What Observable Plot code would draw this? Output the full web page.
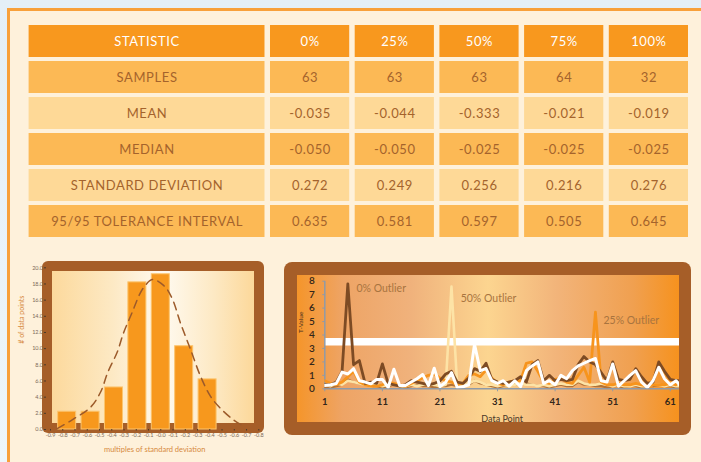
<!DOCTYPE html>
<html>
<head>
<meta charset="utf-8">
<script src="https://cdn.jsdelivr.net/npm/d3@7"></script>
<script src="https://cdn.jsdelivr.net/npm/@observablehq/plot@0.6"></script>
<style>
  html, body { margin: 0; padding: 0; }
  body { width: 701px; height: 462px; overflow: hidden; font-family: Lato, "Open Sans", sans-serif; }
  #page { position: relative; width: 701px; height: 462px; overflow: hidden; background: linear-gradient(180deg, #e4eff7, #eef6fa); }
  .abs { position: absolute; }
  #panel { left: 7px; top: 8px; width: 740px; height: 500px; background: #fef1db; border: 3px solid #f8a03a; box-sizing: border-box; }
  #hframe { left: 42px; top: 261px; width: 222px; height: 172px; background: #a65e28; border-radius: 6px; }
  #hinner { left: 52px; top: 271px; width: 202px; height: 152px; background: linear-gradient(90deg, #fcd99c 0%, #fde9c4 30%, #fffaf0 55%, #fde9c4 80%, #fcd89a 100%); }
  #lframe { left: 284px; top: 262px; width: 407px; height: 173px; background: #a65e28; border-radius: 8px; }
  #linner { left: 297px; top: 275px; width: 382px; height: 147px; background: linear-gradient(90deg, #f5952a 0%, #eea465 12%, #f0b27c 30%, #fcd590 50%, #f2b47a 68%, #f0a050 88%, #f6921e 100%); }
  svg { overflow: visible; }
</style>
</head>
<body>
<div id="page">
  <div id="panel" class="abs"></div>
  <div id="table" class="abs" style="left:0;top:0"></div>
  <div id="hframe" class="abs"></div>
  <div id="hinner" class="abs"></div>
  <div id="hist" class="abs" style="left:0;top:255px"></div>
  <div id="lframe" class="abs"></div>
  <div id="linner" class="abs"></div>
  <div id="line" class="abs" style="left:280px;top:255px"></div>
</div>
<script>
// ---------- DATA ----------
const columns = ["STATISTIC", "0%", "25%", "50%", "75%", "100%"];
const rowLabels = ["SAMPLES", "MEAN", "MEDIAN", "STANDARD DEVIATION", "95/95 TOLERANCE INTERVAL"];
const samples = [63, 63, 63, 64, 32];
const mean = [-0.035, -0.044, -0.333, -0.021, -0.019];
const median = [-0.050, -0.050, -0.025, -0.025, -0.025];
const stdDev = [0.272, 0.249, 0.256, 0.216, 0.276];
const tolerance = [0.635, 0.581, 0.597, 0.505, 0.645];

// histogram
const histTickLabels = ["-0.9","-0.8","-0.7","-0.6","-0.5","-0.4","-0.3","-0.2","-0.1","-0.0","-0.1","-0.2","-0.3","-0.4","-0.5","-0.6","-0.7","-0.8"];
const histCounts = [2.2, 2.2, 5.2, 18.2, 19.2, 10.3, 6.2];
const curveX = [0.55, 1.77, 3.27, 4.08, 4.68, 5.44, 5.98, 6.67, 7.29, 7.67, 8.3, 9.25, 9.93, 10.6, 11.43, 12.24, 13.06, 13.88, 14.97, 15.65];
const curveY = [0.1, 1.2, 2.76, 4.61, 7.09, 9.56, 12.03, 14.5, 16.78, 17.69, 18.55, 17.8, 16.2, 13.2, 9.9, 6.6, 4.1, 2.6, 1.15, 0.5];
const histYTicks = [0, 2, 4, 6, 8, 10, 12, 14, 16, 18, 20];

// T-value series (data points 1..63)
const t0 = [0.3,0.3,0.5,1.3,7.8,1.8,2.1,0.4,0.5,0.4, 1.85,0.4,0.3,0.2,0.3,0.6,0.5,0.4,0.3,0.4, 0.6,1.1,1.3,0.5,0.4,0.8,1.5,1.3,1.9,0.7, 0.5,0.4,0.5,0.6,0.9,0.5,1.8,2.1,0.6,1.0, 0.6,0.7,0.6,0.7,1.8,2.4,2.0,1.8,1.2,0.6, 2.0,0.7,0.6,0.7,1.5,0.9,0.4,0.5,2.0,1.3, 0.7,0.6,0.6];
const t25 = [0.6,0.4,0.3,0.5,0.9,1.3,0.5,0.3,0.2,0.2, 0.3,0.5,0.4,0.3,0.2,0.4,0.6,0.8,1.0,1.1, 0.8,0.6,0.5,0.3,0.4,1.0,1.1,0.9,1.4,0.8, 0.4,0.3,0.5,0.6,0.6,1.9,2.0,1.3,0.5,0.4, 0.7,0.8,0.5,0.4,1.0,1.6,0.5,5.7,0.5,0.3, 0.3,0.4,0.3,0.3,0.4,0.3,0.2,0.3,0.3,0.3, 0.4,0.3,0.9];
const t50 = [0.3,0.2,0.4,0.3,0.6,0.5,0.4,0.3,0.2,0.3, 0.2,0.3,0.3,0.2,0.2,0.3,0.2,0.3,0.4,0.3, 0.2,0.3,7.6,0.2,0.3,0.4,0.6,0.5,0.3,0.3, 0.2,0.3,0.2,0.3,0.4,0.3,0.3,0.2,0.3,0.2, 0.3,0.4,0.3,0.3,0.6,0.4,0.3,0.3,0.4,0.3, 0.2,0.3,0.2,0.2,0.3,0.2,0.2,0.3,0.3,0.2, 0.3,0.2,0.2];
const t75 = [0.25,0.3,0.4,1.24,1.1,1.5,0.6,0.5,0.37,0.7, 0.7,0.1,1.45,0.25,0.25,0.5,0.75,1.06,0.25,1.53, 0.17,0.5,1.2,0.1,0.15,0.3,3.3,1.35,1.5,0.6, 0.4,0.6,0.2,0.6,0.15,1.35,1.7,2.0,0.4,0.6, 0.3,1.0,0.75,1.35,1.7,1.9,2.1,2.25,0.6,0.5, 1.85,0.2,0.6,1.0,1.35,0.5,0.1,0.6,1.6,0.75, 0.3,0.6,0.1];
const t100 = [0.1,0.1,0.2,0.3,0.7,0.5,0.4,0.3,0.2,0.2, 0.1,0.2,0.3,0.2,0.1,0.2,0.3,0.2,0.2,0.1, 0.2,0.2,0.3,0.2,0.2,0.3,0.6,0.4,0.3,0.2, 0.1,0.2,0.2,0.3,0.3,0.4,0.3,0.2,0.2,0.1, 0.2,0.3,0.2,0.2,0.5,0.3,0.3,0.2,0.2,0.1, 0.2,0.2,0.1,0.2,0.2,0.1,0.2,0.2,0.3,0.2, 0.2,0.1,0.1];
const threshold = 3.5;
const lineXTicks = [1, 11, 21, 31, 41, 51, 61];
const lineYTicks = [0, 1, 2, 3, 4, 5, 6, 7, 8];
const outlierLabels = ["0% Outlier", "50% Outlier", "25% Outlier"];
const outlierX = [6.5, 24.6, 49.4];
const outlierY = [7.43, 6.69, 5.08];

// ---------- TABLE ----------
const colWeights = [2.85, 1, 1, 1, 1, 1];
const colStart = colWeights.map((w, i) => d3.sum(colWeights.slice(0, i)));
const rowNames = ["HEADER", ...rowLabels];
const rowValues = [samples, mean, median, stdDev, tolerance];
const rowFormats = [d => String(d), d => d.toFixed(3), d => d.toFixed(3), d => d.toFixed(3), d => d.toFixed(3)];
const rowFill = ["#f8981e", "#fcb955", "#fed997", "#fcb955", "#fed997", "#fcb955"];
const cells = [];
columns.forEach((c, ci) => cells.push({row: "HEADER", ci, text: c, fill: rowFill[0], color: "#ffffff"}));
rowLabels.forEach((r, ri) => {
  cells.push({row: r, ci: 0, text: r, fill: rowFill[ri + 1], color: "#a4632c"});
  rowValues[ri].forEach((v, vi) => cells.push({row: r, ci: vi + 1, text: rowFormats[ri](v), fill: rowFill[ri + 1], color: "#a4632c"}));
});

const tablePlot = Plot.plot({
  width: 701, height: 245,
  marginLeft: 25.85, marginRight: 10.25, marginTop: 22.75, marginBottom: 6.25,
  style: {background: "transparent", fontFamily: "Lato, sans-serif", letterSpacing: "0.6px"},
  x: {domain: [0, d3.sum(colWeights)], axis: null},
  y: {domain: rowNames, paddingInner: 0.125, paddingOuter: 0.0625, axis: null},
  color: {type: "identity"},
  marks: [
    Plot.barX(cells, {x1: d => colStart[d.ci], x2: d => colStart[d.ci] + colWeights[d.ci], y: "row", fill: "fill", insetLeft: 2.75, insetRight: 2.75}),
    Plot.text(cells, {x: d => colStart[d.ci] + colWeights[d.ci] / 2, y: "row", text: "text", fill: "color", fontSize: 13})
  ]
});
document.getElementById("table").appendChild(tablePlot);

// ---------- HISTOGRAM ----------
const barStart = 1.36, barStep = 1.91, barHalf = 0.735;
const bars = histCounts.map((v, i) => ({c: barStart + i * barStep, v}));
const curve = curveX.map((x, i) => ({x, y: curveY[i]}));
const histPlot = Plot.plot({
  width: 280, height: 207,
  marginLeft: 50, marginRight: 21.7, marginTop: 12.3, marginBottom: 33,
  style: {background: "transparent", fontFamily: "Lato, sans-serif"},
  x: {domain: [0, 17]},
  y: {domain: [0, 20]},
  marks: [
    Plot.rectY(bars, {x1: d => d.c - barHalf, x2: d => d.c + barHalf, y: "v", fill: "#f7981d", stroke: "#fcc56e", strokeWidth: 1}),
    Plot.line(curve, {x: "x", y: "y", curve: "catmull-rom", stroke: "#9c5a2a", strokeWidth: 1.5, strokeDasharray: "8,5.5"}),
    Plot.axisY({ticks: histYTicks, tickFormat: d => d.toFixed(1), tickSize: 2, tickPadding: 1.5, dx: -4, fontSize: 5.5, fill: "#7d6a58", stroke: "#4a3a2a", label: null}),
    Plot.axisX({ticks: d3.range(histTickLabels.length), tickFormat: i => histTickLabels[i], tickSize: 1.5, tickPadding: 2.5, fontSize: 5.5, fill: "#7d6a58", stroke: "#4a3a2a", label: null}),
    Plot.text(["# of data points"], {frameAnchor: "left", dx: -29, dy: -5, rotate: -90, fill: "#d6893d", fontSize: 7}),
    Plot.text(["multiples of standard deviation"], {frameAnchor: "bottom", dy: 22, fill: "#d6893d", fontSize: 7.5, style: "letter-spacing:0.3px"})
  ]
});
document.getElementById("hist").appendChild(histPlot);

// ---------- T-VALUE LINES ----------
const toPts = arr => arr.map((v, i) => ({k: i + 1, v}));
const series = [
  {data: toPts(t100), stroke: "#b07238", w: 2.2},
  {data: toPts(t50), stroke: "#fde3a6", w: 2.6},
  {data: toPts(t25), stroke: "#f7941d", w: 2.8},
  {data: toPts(t0), stroke: "#7d4b24", w: 2.8},
  {data: toPts(t75), stroke: "#ffffff", w: 3}
];
const annotations = outlierLabels.map((t, i) => ({t, x: outlierX[i], y: outlierY[i]}));
const linePlot = Plot.plot({
  width: 421, height: 207,
  marginLeft: 44.3, marginRight: 22, marginTop: 25.7, marginBottom: 73.7,
  style: {background: "transparent", fontFamily: "Lato, sans-serif"},
  x: {domain: [1, 62.6]},
  y: {domain: [0, 8]},
  marks: [
    Plot.ruleY([threshold], {stroke: "#ffffff", strokeWidth: 7.7}),
    Plot.ruleY([0], {stroke: "#8e9aa8", strokeWidth: 1.5}),
    Plot.ruleX([1], {y1: 0, y2: 8, stroke: "#8e9aa8", strokeWidth: 1.5}),
    ...series.map(s => Plot.line(s.data, {x: "k", y: "v", stroke: s.stroke, strokeWidth: s.w, strokeLinejoin: "round", clip: true})),
    Plot.text(annotations, {x: "x", y: "y", text: "t", textAnchor: "start", fill: "#a8743f", fontSize: 10.5}),
    Plot.axisY({ticks: lineYTicks, tickSize: 2, tickPadding: 8, fontSize: 10, fontWeight: 600, fill: "#33261a", stroke: "#8e9aa8", label: null}),
    Plot.axisX({ticks: lineXTicks, tickSize: 3, tickPadding: 6, fontSize: 9.5, fontWeight: 700, fill: "#33261a", stroke: "#8e9aa8", label: null}),
    Plot.text(["T-Value"], {frameAnchor: "left", dx: -23.6, dy: -2, rotate: -90, fill: "#4a3020", fontSize: 6.5}),
    Plot.text(["Data Point"], {frameAnchor: "bottom", dy: 33.5, fill: "#4a3828", fontSize: 9})
  ]
});
document.getElementById("line").appendChild(linePlot);
</script>
</body>
</html>
